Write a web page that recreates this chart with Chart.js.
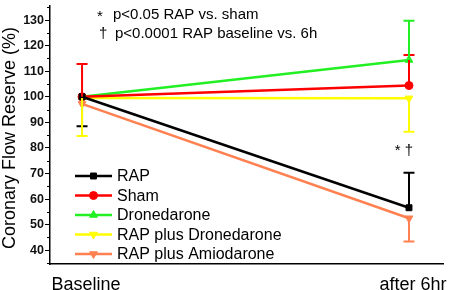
<!DOCTYPE html>
<html><head><meta charset="utf-8">
<script src="https://cdn.jsdelivr.net/npm/chart.js@4/dist/chart.umd.min.js"></script>
<style>html,body{margin:0;padding:0;background:#fff}#wrap{width:450px;height:290px}</style>
</head><body><div id="wrap"><canvas id="c" width="450" height="290"></canvas></div>
<script>
const categories = ['Baseline', 'after 6hr'];
const seriesNames = ['RAP', 'Sham', 'Dronedarone', 'RAP plus Dronedarone', 'RAP plus Amiodarone'];
const rapValues = [100, 56.6];
const shamValues = [100, 104.4];
const droneValues = [100, 114.4];
const rapDroneValues = [99.5, 99.4];
const rapAmioValues = [97.2, 52.5];
// error bar ends (null = none); one-sided bars
const rapErr = [88.5, 70.3];
const shamErr = [112.8, 116.3];
const droneErr = [null, 129.7];
const rapDroneErr = [84.7, 86.3];
const rapAmioErr = [null, 43.4];
const yTicks = [40, 50, 60, 70, 80, 90, 100, 110, 120, 130];
const yMinorTicks = [35, 45, 55, 65, 75, 85, 95, 105, 115, 125, 135];
const yTitle = 'Coronary Flow Reserve (%)';
const noteLines = [['*', 'p<0.05 RAP vs. sham'], ['\u2020', 'p<0.0001 RAP baseline vs. 6h']];
const sigMark = '* \u2020';

const FONT = "'Liberation Sans', Arial, sans-serif";
const colors = ['#000000', '#ff0000', '#22f022', '#ffff00', '#ff8050'];
const styles = ['rect', 'circle', 'triangle', 'triangle', 'triangle'];
const rotations = [0, 0, 0, 180, 180];
const radii = [4.2, 4, 4.5, 4.5, 4.5];
const allValues = [rapValues, shamValues, droneValues, rapDroneValues, rapAmioValues];
const allErr = [rapErr, shamErr, droneErr, rapDroneErr, rapAmioErr];

const datasets = seriesNames.map((n, i) => ({
  label: n,
  data: allValues[i].map((v, j) => ({x: j, y: v})),
  borderColor: colors[i], backgroundColor: colors[i],
  borderWidth: 2.5, pointStyle: styles[i], pointRotation: rotations[i],
  pointRadius: radii[i], pointBorderWidth: 1, tension: 0,
  errEnds: allErr[i]
}));
const errorBars = {
  id: 'errorBars',
  afterDatasetsDraw(chart) {
    const ctx = chart.ctx, xs = chart.scales.x, ys = chart.scales.y;
    chart.data.datasets.forEach((ds) => {
      ds.errEnds.forEach((e, j) => {
        if (e === null) return;
        const x = xs.getPixelForValue(j);
        const y0 = ys.getPixelForValue(ds.data[j].y);
        const y1 = ys.getPixelForValue(e);
        ctx.save();
        ctx.strokeStyle = ds.borderColor; ctx.lineWidth = 2;
        ctx.beginPath(); ctx.moveTo(x, y0); ctx.lineTo(x, y1);
        ctx.moveTo(x - 5.5, y1); ctx.lineTo(x + 5.5, y1); ctx.stroke();
        ctx.restore();
      });
    });
  },
  afterDraw(chart) {
    const ctx = chart.ctx, xs = chart.scales.x, ys = chart.scales.y;
    ctx.save();
    // minor ticks
    ctx.strokeStyle = '#000'; ctx.lineWidth = 1;
    yMinorTicks.forEach((v) => {
      const y = Math.round(ys.getPixelForValue(v)) + 0.5;
      ctx.beginPath(); ctx.moveTo(ys.right - 3, y); ctx.lineTo(ys.right, y); ctx.stroke();
    });
    // y title
    ctx.save();
    ctx.translate(10, 138);
    ctx.rotate(-Math.PI / 2);
    ctx.fillStyle = '#000';
    ctx.font = '18px ' + FONT;
    ctx.textAlign = 'center'; ctx.textBaseline = 'middle';
    ctx.fillText(yTitle, 0, 0);
    ctx.restore();
    ctx.fillStyle = '#000';
    ctx.font = '15px ' + FONT;
    ctx.textBaseline = 'middle';
    noteLines.forEach((l, i) => {
      const y = 15 + i * 19;
      ctx.textAlign = 'left';
      ctx.fillText(l[0], 97 + i * 2, y + (i === 0 ? 2 : 0));
      ctx.fillText(l[1], 113 + i * 2, y);
    });
    ctx.textAlign = 'right';
    ctx.fillText(sigMark, xs.getPixelForValue(1) + 4, ys.getPixelForValue(70.3) - 22);
    chart.data.datasets.forEach((ds, i) => {
      const y = 176 + i * 19.5;
      ctx.strokeStyle = ds.borderColor; ctx.fillStyle = ds.backgroundColor; ctx.lineWidth = 2.5;
      ctx.beginPath(); ctx.moveTo(75, y); ctx.lineTo(112, y); ctx.stroke();
      ctx.lineWidth = 1;
      Chart.helpers.drawPoint(ctx, {pointStyle: ds.pointStyle, rotation: ds.pointRotation, radius: ds.pointRadius, borderWidth: 1}, 93.5, y);
      ctx.fillStyle = '#000';
      ctx.textAlign = 'left';
      ctx.font = '16px ' + FONT;
      ctx.fillText(ds.label, 117, y + 1);
    });
    ctx.restore();
  }
};

new Chart(document.getElementById('c'), {
  type: 'line',
  data: {datasets},
  options: {
    responsive: false, animation: false, devicePixelRatio: 1,
    layout: {padding: {left: 0, right: 7, top: 0, bottom: 0}},
    plugins: {legend: {display: false}, tooltip: {enabled: false}},
    scales: {
      x: {
        type: 'linear', min: -0.098, max: 1.104,
        afterBuildTicks: (s) => { s.ticks = categories.map((c, i) => ({value: i})); },
        afterFit: (s) => { s.height = 26; s.paddingLeft = 0; s.paddingRight = 0; },
        grid: {display: false},
        border: {display: true, color: '#000', width: 1.5},
        ticks: {callback: (v) => categories[v], font: {size: 18, family: FONT}, color: '#000', padding: 2, labelOffset: 4, maxRotation: 0, autoSkip: false}
      },
      y: {
        min: 34.6, max: 135.7,
        afterBuildTicks: (s) => { s.ticks = yTicks.map((v) => ({value: v})); },
        afterFit: (s) => { s.width = 50; s.paddingTop = 0; s.paddingBottom = 0; },
        grid: {drawOnChartArea: false, drawTicks: true, tickLength: 5, color: '#000', lineWidth: 1},
        border: {display: true, color: '#000', width: 1.5},
        ticks: {callback: (v) => String(v), font: {size: 12.5, weight: 'bold', family: FONT}, color: '#111', padding: 1, autoSkip: false},
        title: {display: false}
      }
    }
  },
  plugins: [errorBars]
});
</script></body></html>
